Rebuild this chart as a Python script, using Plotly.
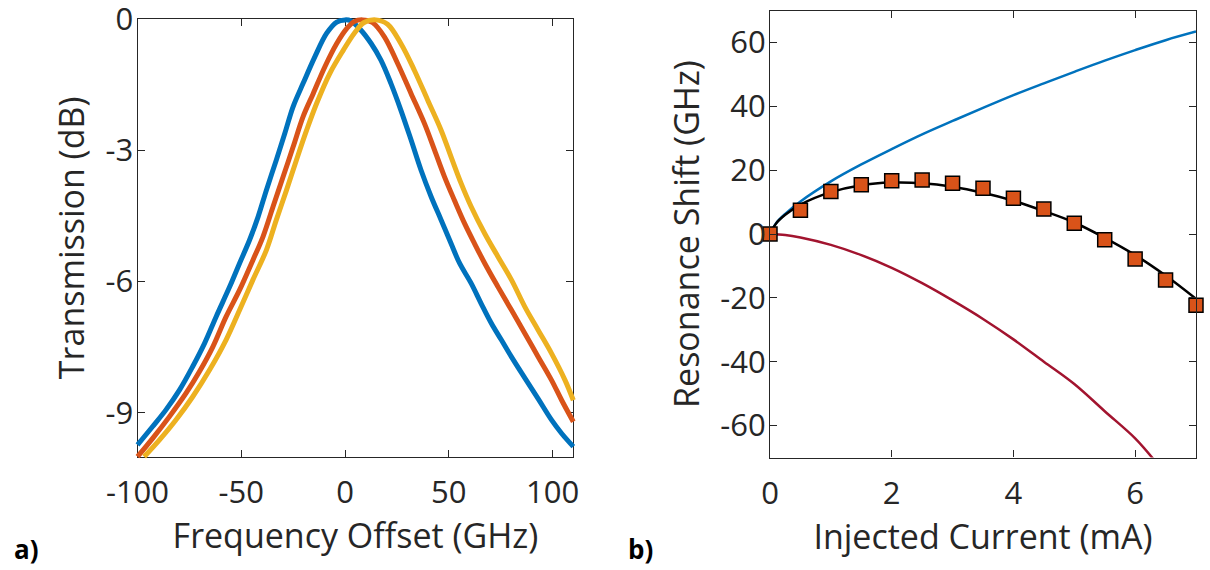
import plotly.graph_objects as go

# ---------------- Panel a) data ----------------
blue_x = [-100, -92.7, -86.3, -79.8, -73.4, -67.7, -62.1, -55.6, -50.8, -46.0, -41.9, -37.9, -33.1,
          -29.0, -25.0, -20.2, -14.5, -8.9, -4.0, 0, 2.7, 7.6, 12.6, 17.3, 22.1, 26.9, 31.8, 36.6,
          41.5, 46.3, 51.1, 55.2, 60.8, 65.6, 70.5, 75.3, 80.2, 86.6, 93.1, 99.5, 104.4, 110]
blue_y = [-9.73, -9.31, -8.93, -8.48, -7.94, -7.41, -6.80, -6.12, -5.58, -5.05, -4.52, -3.91, -3.22,
          -2.61, -2.00, -1.47, -0.86, -0.33, -0.07, -0.02, -0.04, -0.25, -0.56, -0.94, -1.47, -2.08, -2.76, -3.45,
          -4.06, -4.59, -5.13, -5.58, -6.04, -6.50, -6.95, -7.33, -7.72, -8.20, -8.68, -9.16, -9.47, -9.77]

orange_x = [-100, -92.7, -84.7, -76.6, -70.2, -63.7, -57.3, -50.8, -44.4, -39.5, -34.7, -29.8, -25.0,
            -20.2, -15.3, -9.7, -4.0, 0.8, 4.4, 8.4, 13.2, 18.9, 25.3, 31.8, 38.2, 43.1, 47.9, 52.7,
            57.6, 62.4, 67.3, 73.7, 80.2, 86.6, 93.1, 99.5, 104.4, 110]
orange_y = [-10.0, -9.58, -9.09, -8.55, -8.06, -7.49, -6.80, -6.19, -5.51, -4.97, -4.29, -3.60, -2.92,
            -2.23, -1.70, -1.09, -0.56, -0.22, -0.06, -0.02, -0.08, -0.40, -1.01, -1.70, -2.38, -2.99, -3.60, -4.14,
            -4.67, -5.13, -5.58, -6.12, -6.65, -7.18, -7.72, -8.25, -8.71, -9.20]

yellow_x = [-96.8, -89.5, -81.5, -73.4, -65.3, -57.3, -50.8, -44.4, -37.9, -33.1, -28.2, -23.4, -18.5,
            -13.7, -7.3, -0.8, 4.4, 9.2, 14.8, 20.5, 26.9, 33.4, 39.8, 46.3, 51.1, 55.9, 60.8, 67.3,
            73.7, 80.2, 86.6, 93.1, 99.5, 106, 110]
yellow_y = [-10.0, -9.62, -9.16, -8.63, -8.02, -7.33, -6.65, -5.96, -5.28, -4.59, -3.91, -3.22, -2.54,
            -1.93, -1.24, -0.71, -0.33, -0.08, -0.02, -0.12, -0.56, -1.17, -1.85, -2.54, -3.15, -3.75, -4.29, -4.90,
            -5.43, -5.96, -6.57, -7.11, -7.64, -8.25, -8.71]

a_xticks = [-100, -50, 0, 50, 100]
a_xticktext = ["-100", "-50", "0", "50", "100"]
a_yticks = [-9, -6, -3, 0]
a_yticktext = ["-9", "-6", "-3", "0"]

# ---------------- Panel b) data ----------------
model_x = [0, 0.1, 0.25, 0.5, 1, 1.5, 2, 2.5, 3, 3.5, 4, 4.5, 5, 5.5, 6, 6.5, 7]
thermal_up = [0, 3.4, 6.3, 10.2, 16.5, 21.8, 26.6, 31.2, 35.4, 39.5, 43.5, 47.2, 50.8, 54.3, 57.6, 60.7, 63.4]
fit_total = [0, 3.3, 6.0, 9.2, 13.1, 15.3, 16.1, 15.9, 14.8, 12.9, 10.4, 7.2, 3.6, -1.2, -6.6, -13.0, -20.3]

carrier_x = [0, 0.25, 0.5, 1, 1.5, 2, 2.5, 3, 3.5, 4, 4.5, 5, 5.5, 6, 6.3]
carrier_y = [0, -0.3, -1.1, -3.4, -6.6, -10.6, -15.4, -20.8, -26.6, -33.0, -40.0, -47.0, -55.5, -64.0, -70.5]

meas_x = [0, 0.5, 1, 1.5, 2, 2.5, 3, 3.5, 4, 4.5, 5, 5.5, 6, 6.5, 7]
meas_y = [0, 7.4, 13.3, 15.4, 16.7, 16.9, 15.9, 14.3, 11.2, 7.8, 3.4, -1.8, -7.8, -14.4, -22.3]

b_xticks = [0, 2, 4, 6]
b_xticktext = ["0", "2", "4", "6"]
b_yticks = [-60, -40, -20, 0, 20, 40, 60]
b_yticktext = ["-60", "-40", "-20", "0", "20", "40", "60"]

# ---------------- Layout geometry (pixels) ----------------
W, H = 1210, 570
A_L, A_R, A_T, A_B = 137.5, 573.3, 19.0, 456.7
B_L, B_R, B_T, B_B = 770.0, 1196.0, 10.5, 457.5
A_XR = [-100, 110]
A_YR = [-10, 0]
PAD = 8  # extra room so thick lines are not clipped at the frame

ax_ppu = (A_R - A_L) / (A_XR[1] - A_XR[0])
ay_ppu = (A_B - A_T) / (A_YR[1] - A_YR[0])

FONT = "Open Sans"
TXT = "#262626"
AX = "#262626"

fig = go.Figure()

for xs, ys, col in [(blue_x, blue_y, "#0072BD"), (orange_x, orange_y, "#D95319"), (yellow_x, yellow_y, "#EDB120")]:
    fig.add_trace(go.Scatter(x=xs, y=ys, mode="lines", line=dict(color=col, width=5, shape="spline", smoothing=1.0),
                             xaxis="x3", yaxis="y3", showlegend=False, hoverinfo="skip"))

fig.add_trace(go.Scatter(x=model_x, y=thermal_up, mode="lines", line=dict(color="#0072BD", width=2.5, shape="spline"),
                         xaxis="x2", yaxis="y2", showlegend=False))
fig.add_trace(go.Scatter(x=carrier_x, y=carrier_y, mode="lines", line=dict(color="#A2142F", width=2.5, shape="spline"),
                         xaxis="x2", yaxis="y2", showlegend=False))
fig.add_trace(go.Scatter(x=model_x, y=fit_total, mode="lines", line=dict(color="black", width=2.5, shape="spline"),
                         xaxis="x2", yaxis="y2", showlegend=False))
fig.add_trace(go.Scatter(x=meas_x, y=meas_y, mode="markers",
                         marker=dict(symbol="square", size=14, color="#D95319", line=dict(color="black", width=1.5)),
                         xaxis="x2", yaxis="y2", showlegend=False, cliponaxis=False))

# invisible trace so the framed subplot of panel a) exists
fig.add_trace(go.Scatter(x=[A_XR[0]], y=[A_YR[0]], mode="markers", marker=dict(opacity=0),
                         xaxis="x", yaxis="y", showlegend=False, hoverinfo="skip"))

axis_common = dict(showline=True, linecolor=AX, linewidth=1.3, mirror="allticks", ticks="inside",
                   ticklen=7, tickwidth=1.3, tickcolor=AX, showgrid=False, zeroline=False,
                   automargin=False, ticklabeloverflow="allow",
                   tickfont=dict(family=FONT, size=31, color=TXT))
title_font = dict(family=FONT, size=34, color=TXT)
hidden = dict(visible=False, showgrid=False, zeroline=False, automargin=False)

fig.update_layout(
    width=W, height=H, autosize=False,
    margin=dict(l=0, r=0, t=0, b=0),
    paper_bgcolor="white", plot_bgcolor="rgba(0,0,0,0)",
    xaxis=dict(domain=[A_L / W, A_R / W], range=A_XR, anchor="y",
               tickmode="array", tickvals=a_xticks, ticktext=a_xticktext, ticklabelstandoff=8,
               title=dict(text="Frequency Offset (GHz)", font=title_font, standoff=12), **axis_common),
    yaxis=dict(domain=[1 - A_B / H, 1 - A_T / H], range=A_YR, anchor="x",
               tickmode="array", tickvals=a_yticks, ticktext=a_yticktext, ticklabelstandoff=-3,
               title=dict(text="Transmission (dB)", font=title_font, standoff=10), **axis_common),
    xaxis3=dict(domain=[(A_L - PAD) / W, (A_R + PAD) / W],
                range=[A_XR[0] - PAD / ax_ppu, A_XR[1] + PAD / ax_ppu], anchor="y3", **hidden),
    yaxis3=dict(domain=[1 - (A_B + PAD) / H, 1 - (A_T - PAD) / H],
                range=[A_YR[0] - PAD / ay_ppu, A_YR[1] + PAD / ay_ppu], anchor="x3", **hidden),
    xaxis2=dict(domain=[B_L / W, B_R / W], range=[0, 7], anchor="y2",
                tickmode="array", tickvals=b_xticks, ticktext=b_xticktext, ticklabelstandoff=8,
                title=dict(text="Injected Current (mA)", font=title_font, standoff=12), **axis_common),
    yaxis2=dict(domain=[1 - B_B / H, 1 - B_T / H], range=[-70, 70], anchor="x2",
                tickmode="array", tickvals=b_yticks, ticktext=b_yticktext, ticklabelstandoff=-3,
                title=dict(text="Resonance Shift (GHz)", font=title_font, standoff=10), **axis_common),
    annotations=[
        dict(text="<b>a)</b>", x=12 / W, y=1 - 549 / H, xref="paper", yref="paper",
             xanchor="left", yanchor="middle", showarrow=False, font=dict(family=FONT, size=26, color="black")),
        dict(text="<b>b)</b>", x=626 / W, y=1 - 549 / H, xref="paper", yref="paper",
             xanchor="left", yanchor="middle", showarrow=False, font=dict(family=FONT, size=26, color="black")),
    ],
)

fig.write_html("out.html", config={"displayModeBar": False},
               post_script="document.body.style.margin='0px';document.body.style.overflow='hidden';")
